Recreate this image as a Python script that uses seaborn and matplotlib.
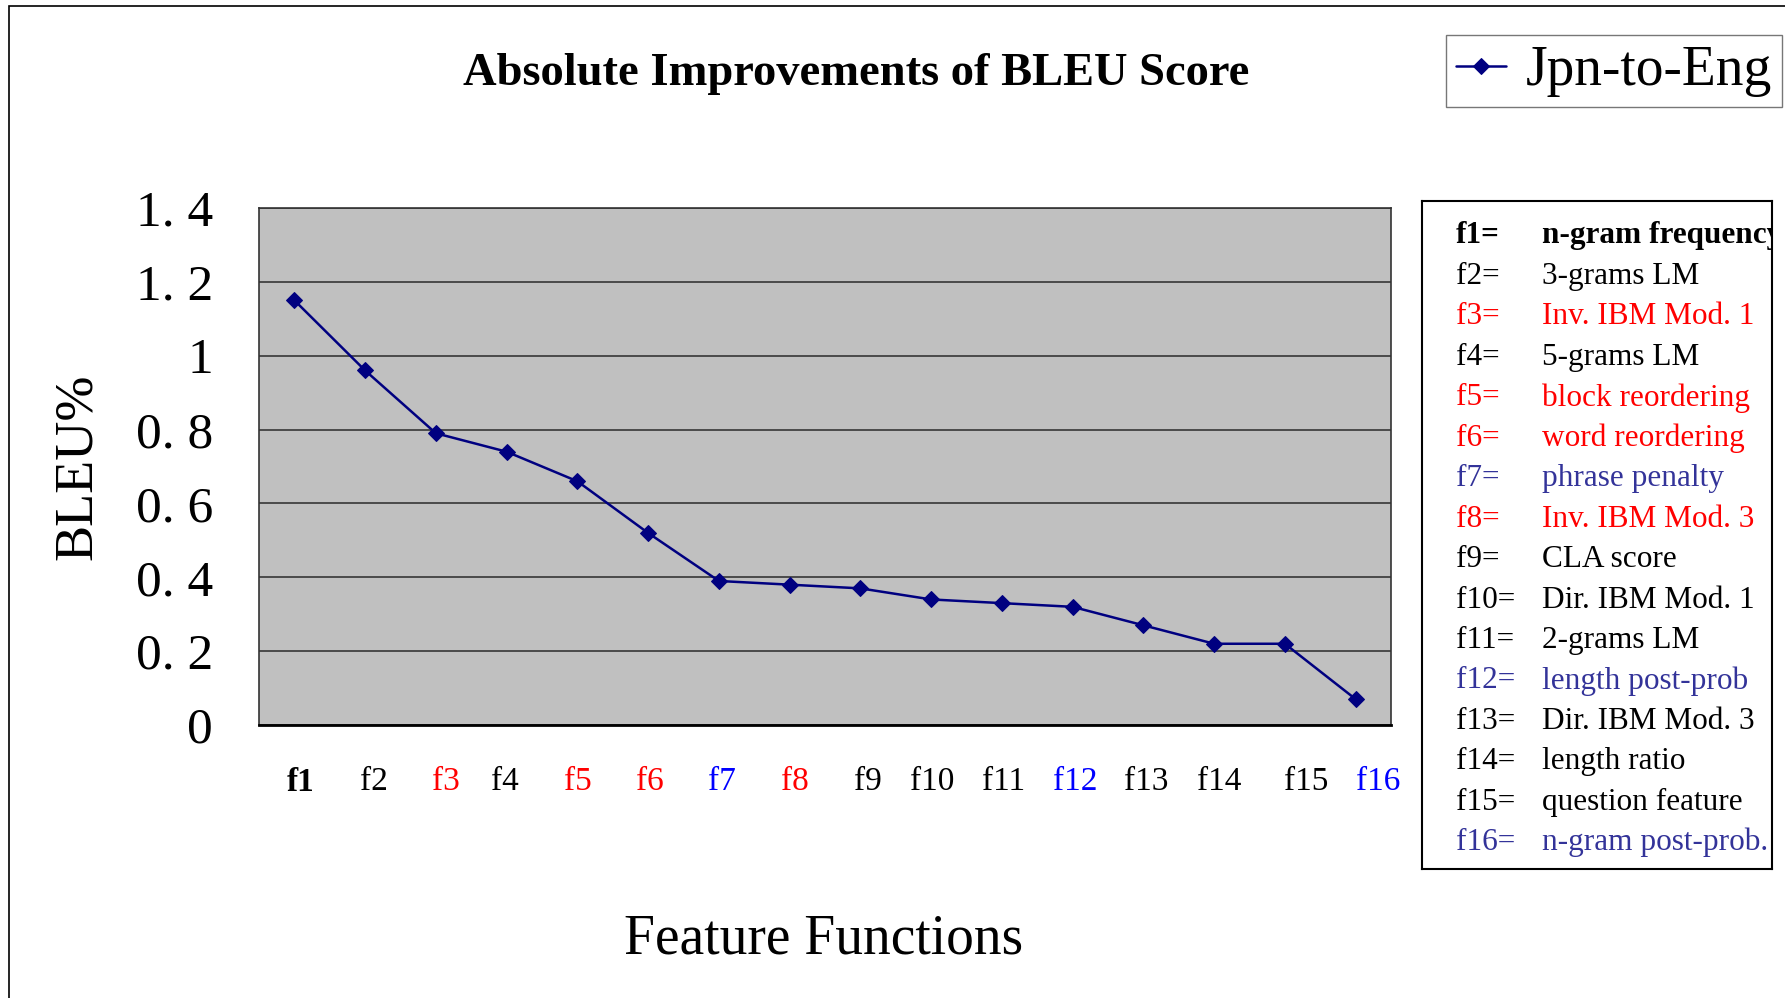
import matplotlib
matplotlib.use("Agg")
import matplotlib.pyplot as plt
import matplotlib.transforms as mtransforms
import seaborn as sns
import pandas as pd
from matplotlib.patches import Rectangle
from matplotlib.ticker import FixedLocator

# data
features = ["f1", "f2", "f3", "f4", "f5", "f6", "f7", "f8",
            "f9", "f10", "f11", "f12", "f13", "f14", "f15", "f16"]
bleu_gain = [1.15, 0.96, 0.79, 0.74, 0.66, 0.52, 0.39, 0.38,
             0.37, 0.34, 0.33, 0.32, 0.27, 0.22, 0.22, 0.07]
descriptions = ["n-gram frequency", "3-grams LM", "Inv. IBM Mod. 1", "5-grams LM",
                "block reordering", "word reordering", "phrase penalty", "Inv. IBM Mod. 3",
                "CLA score", "Dir. IBM Mod. 1", "2-grams LM", "length post-prob",
                "Dir. IBM Mod. 3", "length ratio", "question feature", "n-gram post-prob."]
# k = black, r = red, b = blue
feature_kind = ["k", "k", "r", "k", "r", "r", "b", "r",
                "k", "k", "k", "b", "k", "k", "k", "b"]
yticks = [0, 0.2, 0.4, 0.6, 0.8, 1.0, 1.2, 1.4]
ytick_labels = ["0", "0. 2", "0. 4", "0. 6", "0. 8", "1", "1. 2", "1. 4"]

tick_col = {"k": "#000000", "r": "#FF0000", "b": "#0000FF"}
table_col = {"k": "#000000", "r": "#FF0000", "b": "#333399"}
# the tick labels in the original sit a little right of the category centres (px)
label_shift = [6, 9, 10, -2, 0, 2, 3, 5, 7, 1, 2, 3, 3, 5, 21, 23]

sns.set_style("white")
plt.rcParams["font.family"] = ["Liberation Serif", "DejaVu Serif"]
plt.rcParams["text.color"] = "black"
plt.rcParams["axes.labelcolor"] = "black"
plt.rcParams["xtick.color"] = "black"
plt.rcParams["ytick.color"] = "black"

df = pd.DataFrame({"feature": features, "gain": bleu_gain})

W, H = 1785, 998
fig = plt.figure(figsize=(W / 100, H / 100), dpi=100)
ax = fig.add_axes([259 / W, 1 - 725 / H, (1391 - 259) / W, (725 - 208) / H])
ax.set_facecolor("#C0C0C0")

sns.lineplot(data=df, x="feature", y="gain", sort=False, ax=ax,
             color="#000080", lw=1.8, marker="D", markersize=8.5,
             markeredgecolor="#000080", label="Jpn-to-Eng")

n = len(features)
ax.set_xlim(-0.5, n - 0.5)
ax.set_ylim(0, 1.4)
ax.set_yticks(yticks)
ax.set_yticklabels(ytick_labels, fontsize=37)
ax.yaxis.grid(True, color="#2a2a2a", lw=1.1)
ax.set_axisbelow(True)
ax.tick_params(axis="y", direction="in", length=8, width=1.2, pad=33)

ax.set_xticks(range(n))
ax.set_xticklabels(features, fontsize=24)
ax.tick_params(axis="x", length=0, pad=30)
for lab, kind, dx in zip(ax.get_xticklabels(), feature_kind, label_shift):
    lab.set_color(tick_col[kind])
    lab.set_transform(lab.get_transform() +
                      mtransforms.ScaledTranslation(dx / 100, 0, fig.dpi_scale_trans))
ax.get_xticklabels()[0].set_fontweight("bold")
ax.xaxis.set_minor_locator(FixedLocator([i + 0.5 for i in range(n - 1)]))
ax.tick_params(axis="x", which="minor", direction="in", length=12, width=1.2, color="#333333")

for s in ax.spines.values():
    s.set_color("#333333")
    s.set_linewidth(1.2)
ax.spines["bottom"].set_linewidth(2)
ax.spines["bottom"].set_color("black")

ax.set_xlabel("Feature Functions", fontsize=40)
ax.xaxis.set_label_coords((824 - 259) / 1132, (725 - 914) / 517)
ax.set_ylabel("BLEU%", fontsize=39)
ax.yaxis.set_label_coords((103 - 259) / 1132, (725 - 467) / 517)

fig.text(856 / W, 1 - 74 / H, "Absolute Improvements of BLEU Score",
         ha="center", va="center", fontsize=33.5, fontweight="bold")

leg = ax.legend(loc="upper right", bbox_to_anchor=(1782 / W, 1 - 35 / H),
                bbox_transform=fig.transFigure, borderaxespad=0, fontsize=40,
                frameon=True, fancybox=False, edgecolor="#555555",
                handlelength=0.9, handletextpad=0.35, borderpad=0.18)
leg.get_frame().set_linewidth(1)

# feature table box
tab = fig.add_axes([1422 / W, 1 - 869 / H, (1772 - 1422) / W, (869 - 201) / H])
tab.set_xticks([])
tab.set_yticks([])
for s in tab.spines.values():
    s.set_color("black")
    s.set_linewidth(1.5)
tab.set_xlim(1422, 1772)
tab.set_ylim(869, 201)
for i, (f, d, kind) in enumerate(zip(features, descriptions, feature_kind)):
    y = 236 + i * 40.45
    wt = "bold" if i == 0 else "normal"
    tab.text(1456, y, f + "=", color=table_col[kind], fontsize=22.5,
             va="center", fontweight=wt, clip_on=True)
    tab.text(1542, y, d, color=table_col[kind], fontsize=22.5,
             va="center", fontweight=wt, clip_on=True)

# outer frame
fig.patches.append(Rectangle((9 / W, -0.05), 1.2, 1.05 - 6 / H,
                             transform=fig.transFigure, fill=False,
                             edgecolor="black", lw=1.2))

fig.savefig("out.png", dpi=100)
